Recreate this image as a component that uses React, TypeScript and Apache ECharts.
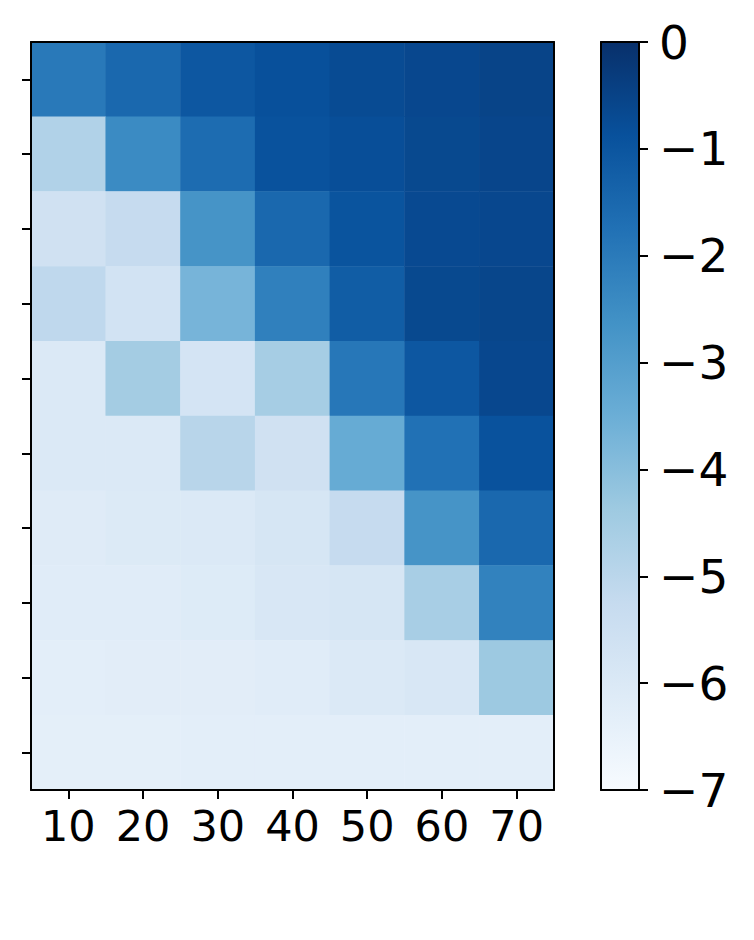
import React, { useEffect, useRef } from "react";
import * as echarts from "echarts";

// x categories
const xCategories = ["10", "20", "30", "40", "50", "60", "70"];
// 10 rows, top to bottom (y tick labels are hidden in the reference)
const yCategories = ["r0", "r1", "r2", "r3", "r4", "r5", "r6", "r7", "r8", "r9"];

// heat values per row (top -> bottom), columns 10..70
const row0 = [-1.95, -1.5, -1.05, -0.85, -0.72, -0.62, -0.52];
const row1 = [-4.8, -2.45, -1.6, -0.9, -0.8, -0.65, -0.57];
const row2 = [-5.6, -5.25, -2.7, -1.5, -0.95, -0.67, -0.62];
const row3 = [-5.1, -5.7, -3.7, -2.15, -1.2, -0.65, -0.58];
const row4 = [-6.0, -4.5, -5.75, -4.55, -1.9, -1.05, -0.62];
const row5 = [-6.0, -6.0, -4.95, -5.6, -3.4, -1.75, -0.9];
const row6 = [-6.15, -6.05, -6.0, -5.85, -5.25, -2.7, -1.5];
const row7 = [-6.2, -6.2, -6.1, -5.9, -5.85, -4.6, -2.2];
const row8 = [-6.3, -6.25, -6.25, -6.2, -6.0, -5.9, -4.35];
const row9 = [-6.35, -6.35, -6.3, -6.3, -6.3, -6.3, -6.3];
const rows = [row0, row1, row2, row3, row4, row5, row6, row7, row8, row9];

// colour scale range and colourbar ticks
const valueMin = -7;
const valueMax = 0;
const colorbarTickStep = 1;

// matplotlib "Blues" colormap stops (low -> high)
const blues = [
  "#f7fbff",
  "#deebf7",
  "#c6dbef",
  "#9ecae1",
  "#6baed6",
  "#4292c6",
  "#2171b5",
  "#08519c",
  "#08306b",
];

const FONT = "DejaVu Sans";

function minusFmt(v: number | string): string {
  const n = Number(v);
  return n < 0 ? "\u2212" + Math.abs(n) : String(n);
}

export default function App() {
  const ref = useRef<HTMLDivElement>(null);

  useEffect(() => {
    if (!ref.current) return;
    const chart = echarts.init(ref.current, null, { renderer: "svg" });

    const heatData: [number, number, number][] = [];
    rows.forEach((row, yi) => {
      row.forEach((v, xi) => heatData.push([xi, yi, v]));
    });

    const frameLine = { show: true, onZero: false, lineStyle: { color: "#000", width: 2 } };
    const hidden = { show: false };

    const gradientStops = blues
      .slice()
      .reverse()
      .map((c, i) => ({ offset: i / (blues.length - 1), color: c }));

    chart.setOption({
      animation: false,
      backgroundColor: "#ffffff",
      textStyle: { fontFamily: FONT },
      grid: [
        { left: 31, top: 42, width: 523, height: 748, containLabel: false },
        { left: 601, top: 42, width: 38, height: 748, containLabel: false },
      ],
      xAxis: [
        {
          type: "category",
          gridIndex: 0,
          data: xCategories,
          position: "bottom",
          z: 10,
          axisLine: frameLine,
          axisTick: {
            show: true,
            alignWithLabel: true,
            length: 9,
            lineStyle: { color: "#000", width: 2 },
          },
          axisLabel: {
            color: "#000",
            fontSize: 43,
            fontFamily: FONT,
            margin: 14,
          },
          splitLine: hidden,
        },
        {
          type: "category",
          gridIndex: 0,
          data: xCategories,
          position: "top",
          z: 10,
          axisLine: frameLine,
          axisTick: hidden,
          axisLabel: hidden,
          splitLine: hidden,
        },
        {
          type: "category",
          gridIndex: 1,
          data: ["cb"],
          position: "bottom",
          z: 10,
          axisLine: frameLine,
          axisTick: hidden,
          axisLabel: hidden,
          splitLine: hidden,
        },
        {
          type: "category",
          gridIndex: 1,
          data: ["cb"],
          position: "top",
          z: 10,
          axisLine: frameLine,
          axisTick: hidden,
          axisLabel: hidden,
          splitLine: hidden,
        },
      ],
      yAxis: [
        {
          type: "category",
          gridIndex: 0,
          data: yCategories,
          inverse: true,
          position: "left",
          z: 10,
          axisLine: frameLine,
          axisTick: {
            show: true,
            alignWithLabel: true,
            length: 9,
            lineStyle: { color: "#000", width: 2 },
          },
          axisLabel: { show: false },
          splitLine: hidden,
        },
        {
          type: "category",
          gridIndex: 0,
          data: yCategories,
          inverse: true,
          position: "right",
          z: 10,
          axisLine: frameLine,
          axisTick: hidden,
          axisLabel: hidden,
          splitLine: hidden,
        },
        {
          type: "value",
          gridIndex: 1,
          min: valueMin,
          max: valueMax,
          interval: colorbarTickStep,
          position: "right",
          z: 10,
          axisLine: frameLine,
          axisTick: {
            show: true,
            length: 9,
            lineStyle: { color: "#000", width: 2 },
          },
          axisLabel: {
            color: "#000",
            fontSize: 47,
            fontFamily: FONT,
            margin: 20,
            formatter: minusFmt,
          },
          splitLine: hidden,
        },
        {
          type: "value",
          gridIndex: 1,
          min: valueMin,
          max: valueMax,
          interval: colorbarTickStep,
          position: "left",
          z: 10,
          axisLine: frameLine,
          axisTick: hidden,
          axisLabel: hidden,
          splitLine: hidden,
        },
      ],
      visualMap: {
        show: false,
        type: "continuous",
        min: valueMin,
        max: valueMax,
        dimension: 2,
        seriesIndex: 0,
        inRange: { color: blues },
      },
      series: [
        {
          type: "heatmap",
          xAxisIndex: 0,
          yAxisIndex: 0,
          data: heatData,
          z: 2,
          itemStyle: { borderWidth: 0 },
          emphasis: { disabled: true },
        },
        {
          type: "bar",
          xAxisIndex: 2,
          yAxisIndex: 2,
          data: [valueMin],
          barWidth: "100%",
          z: 2,
          silent: true,
          itemStyle: {
            color: new echarts.graphic.LinearGradient(0, 0, 0, 1, gradientStops),
          },
        },
      ],
    });

    return () => {
      chart.dispose();
    };
  }, []);

  return (
    <div
      ref={ref}
      style={{ position: "fixed", left: 0, top: 0, width: 754, height: 940 }}
    />
  );
}
